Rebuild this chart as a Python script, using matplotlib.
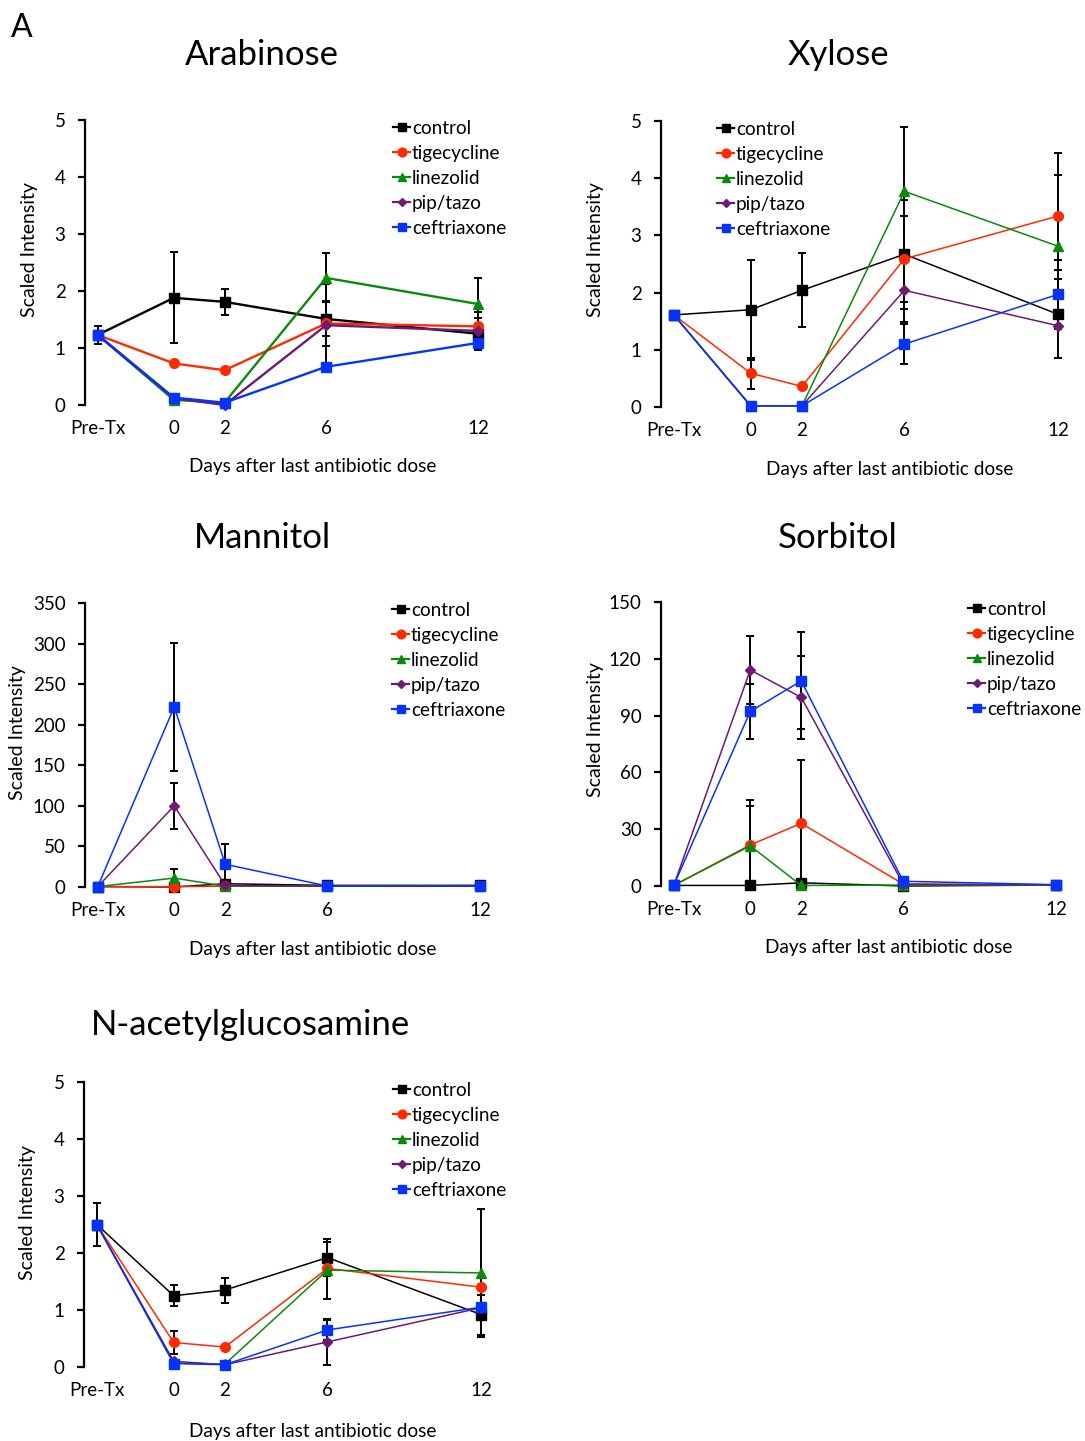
import matplotlib
matplotlib.use("Agg")
import matplotlib.pyplot as plt
import numpy as np

plt.rcParams['font.family'] = ['Lato', 'DejaVu Sans']

# ---- data ----
days = [-3, 0, 2, 6, 12]
day_labels = ['Pre-Tx', '0', '2', '6', '12']
groups = ['control', 'tigecycline', 'linezolid', 'pip/tazo', 'ceftriaxone']

# rows: control, tigecycline, linezolid, pip/tazo, ceftriaxone
arabinose = [[1.23, 1.88, 1.81, 1.51, 1.25],
             [1.23, 0.73, 0.61, 1.43, 1.38],
             [1.23, 0.09, 0.04, 2.23, 1.77],
             [1.23, 0.12, 0.00, 1.40, 1.30],
             [1.23, 0.13, 0.04, 0.67, 1.09]]
arabinose_err = [[0.16, 0.80, 0.23, 0.30, 0.27],
                 [0, 0, 0, 0.40, 0.25],
                 [0, 0, 0, 0.43, 0.46],
                 [0, 0, 0, 0.72, 0],
                 [0, 0, 0, 0, 0.12]]

xylose = [[1.61, 1.70, 2.04, 2.67, 1.62],
          [1.61, 0.59, 0.36, 2.59, 3.34],
          [1.61, 0.02, 0.02, 3.77, 2.81],
          [1.61, 0.02, 0.02, 2.04, 1.42],
          [1.61, 0.02, 0.02, 1.10, 1.97]]
xylose_err = [[0, 0.87, 0.65, 0.95, 0.77],
              [0, 0.27, 0, 0.75, 1.10],
              [0, 0, 0, 1.12, 1.25],
              [0, 0, 0, 0.55, 0],
              [0, 0, 0, 0.35, 0.60]]

mannitol = [[0.5, 0.0, 4.0, 2.0, 2.0],
            [0.5, 0.5, 1.0, 1.0, 1.0],
            [0.5, 11.0, 1.0, 1.0, 1.0],
            [0.5, 100.0, 2.0, 1.0, 1.0],
            [0.5, 222.0, 28.0, 1.2, 1.6]]
mannitol_err = [[0, 0, 0, 0, 0],
                [0, 0, 0, 0, 0],
                [0, 11.0, 0, 0, 0],
                [0, 28.5, 0, 0, 0],
                [0, 79.0, 25.0, 0, 0]]

sorbitol = [[0.3, 0.3, 1.7, 0.0, 0.5],
            [0.3, 21.7, 33.1, 1.0, 0.5],
            [0.3, 21.2, 0.3, 0.5, 0.5],
            [0.3, 114.1, 99.6, 1.0, 0.5],
            [0.3, 92.2, 108.3, 2.5, 0.7]]
sorbitol_err = [[0, 0, 0, 0, 0],
                [0, 23.6, 33.4, 0, 0],
                [0, 21.2, 0, 0, 0],
                [0, 18.0, 21.9, 0, 0],
                [0, 14.6, 25.6, 0, 0]]

nag = [[2.50, 1.25, 1.35, 1.92, 0.92],
       [2.50, 0.43, 0.35, 1.73, 1.40],
       [2.50, 0.07, 0.05, 1.70, 1.65],
       [2.50, 0.10, 0.04, 0.44, 1.04],
       [2.50, 0.06, 0.04, 0.65, 1.05]]
nag_err = [[0.38, 0.18, 0.22, 0.32, 0.35],
           [0, 0.20, 0, 0, 0],
           [0, 0, 0, 0.50, 1.12],
           [0, 0, 0, 0.40, 0],
           [0, 0, 0, 0.17, 0]]

colors = ['black', '#FF2A00', '#0A8A0A', '#6E1A72', '#0433FF']
markers = ['s', 'o', '^', 'D', 's']
msizes = [7, 7, 6.5, 5, 7]

W, H = 1085, 1441
fig = plt.figure(figsize=(W / 100, H / 100), dpi=100)
FS = 13.7


def px_axes(left, top, right, bottom):
    return fig.add_axes([left / W, 1 - bottom / H, (right - left) / W, (bottom - top) / H])


def panel(box, title, title_xy, means, errs, yticks, lw, ylab_xy, xlab_xy, leg_xy):
    ax = px_axes(*box)
    x = np.array(days)
    for k in range(5):
        m = np.array(means[k], dtype=float)
        e = np.array(errs[k], dtype=float)
        mask = e > 0
        if mask.any():
            ax.errorbar(x[mask], m[mask], yerr=e[mask], fmt='none', ecolor='black',
                        elinewidth=1.4, capsize=3, capthick=1.4, zorder=2, clip_on=False)
        ax.plot(x, m, color=colors[k], marker=markers[k], ms=msizes[k], lw=lw,
                label=groups[k], zorder=3 + k, clip_on=False)
    ax.set_xlim(-3.5, 12.5)
    ax.set_ylim(yticks[0], yticks[-1])
    ax.set_yticks(yticks)
    ax.set_xticks(days)
    ax.set_xticklabels(day_labels)
    for s in ['top', 'right', 'bottom']:
        ax.spines[s].set_visible(False)
    ax.spines['left'].set_linewidth(1.6)
    ax.tick_params(axis='y', direction='out', length=5, width=1.6, pad=9, labelsize=13.5)
    ax.tick_params(axis='x', length=0, pad=10.5, labelsize=13.5)
    ax.patch.set_alpha(0)
    fig.text(title_xy[0] / W, 1 - title_xy[1] / H, title, fontsize=25,
             ha='center', va='center')
    fig.text(ylab_xy[0] / W, 1 - ylab_xy[1] / H, 'Scaled Intensity', fontsize=14,
             rotation=90, ha='center', va='center')
    fig.text(xlab_xy[0] / W, 1 - xlab_xy[1] / H, 'Days after last antibiotic dose',
             fontsize=FS, ha='center', va='center')
    leg = ax.legend(loc='upper left', bbox_to_anchor=(leg_xy[0] / W, 1 - leg_xy[1] / H),
                    bbox_transform=fig.transFigure, frameon=False, fontsize=FS,
                    handlelength=0.9, handletextpad=0.1, labelspacing=0.42,
                    borderpad=0, borderaxespad=0, markerscale=0.9)
    for h in leg.legend_handles:
        h.set_linewidth(1.6)
    return ax


panel((85, 120, 491, 405), 'Arabinose', (262, 55), arabinose, arabinose_err,
      [0, 1, 2, 3, 4, 5], 1.7, (30, 250), (313, 467), (393, 120))
panel((661, 121, 1071, 407), 'Xylose', (838, 55), xylose, xylose_err,
      [0, 1, 2, 3, 4, 5], 1.1, (596, 250), (890, 470), (717, 121))
panel((85, 603, 493, 887), 'Mannitol', (262, 538), mannitol, mannitol_err,
      [0, 50, 100, 150, 200, 250, 300, 350], 1.1, (18, 733), (313, 949), (392, 602))
panel((661, 602, 1069, 886), 'Sorbitol', (838, 538), sorbitol, sorbitol_err,
      [0, 30, 60, 90, 120, 150], 1.1, (595, 730), (889, 948), (968, 601))
panel((84, 1082, 494, 1367), 'N-acetylglucosamine', (250, 1025), nag, nag_err,
      [0, 1, 2, 3, 4, 5], 1.1, (28, 1213), (313, 1431), (393, 1082))

fig.text(22 / W, 1 - 28 / H, 'A', fontsize=23, ha='center', va='center')

fig.savefig('out.png', dpi=100)
